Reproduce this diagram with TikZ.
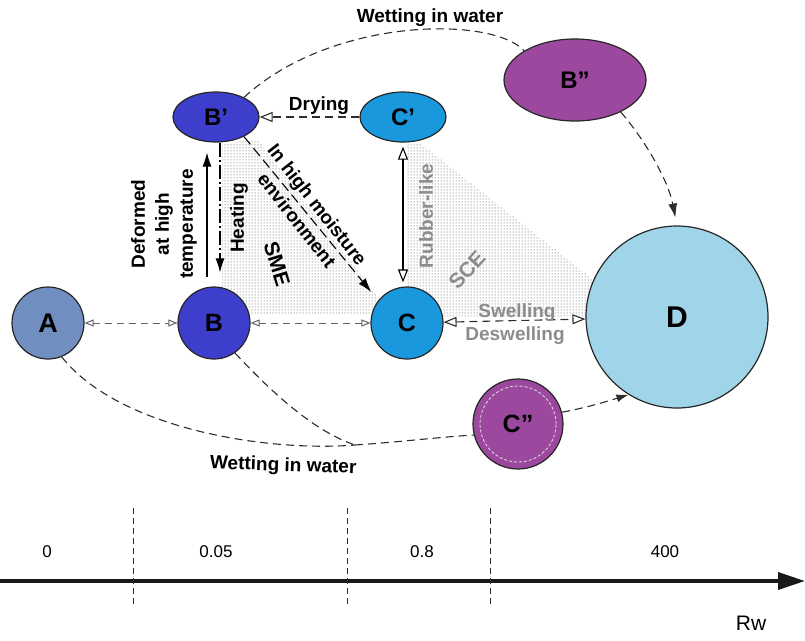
\documentclass[tikz,border=0pt]{standalone}
\usepackage{fontspec}
\setmainfont{Liberation Sans}
\usetikzlibrary{arrows.meta,shapes.geometric,patterns,calc}
\definecolor{colA}{RGB}{112,142,192}
\definecolor{colB}{RGB}{62,62,204}
\definecolor{colC}{RGB}{26,152,222}
\definecolor{colD}{RGB}{160,212,232}
\definecolor{colP}{RGB}{156,72,158}
\definecolor{txtgray}{RGB}{140,140,140}
\definecolor{lnA}{RGB}{100,100,100}
\definecolor{lnB}{RGB}{45,45,45}
\tikzset{
  otS/.tip={Triangle[open,length=9pt,width=7pt,line width=1pt]},
  otL/.tip={Triangle[open,length=13pt,width=10pt,line width=1.1pt]},
  ftip/.tip={Latex[length=14pt,width=9pt]},
  state/.style={circle,draw=black!85,line width=1.2pt,inner sep=0pt},
  estate/.style={ellipse,draw=black!85,line width=1.2pt,inner sep=0pt},
  lbl/.style={font=\fontsize{19}{24}\selectfont\bfseries,align=center,inner sep=0pt},
  glbl/.style={lbl,text=txtgray},
  nlbl/.style={font=\fontsize{17}{20}\selectfont,inner sep=0pt},
  conn/.style={line width=1.1pt,draw=black},
  gconn/.style={line width=1pt,draw=lnA,dash pattern=on 7pt off 5pt},
  dconn/.style={line width=1.1pt,draw=lnB,dash pattern=on 8pt off 5pt},
  vdash/.style={line width=0.8pt,draw=lnB,dash pattern=on 6pt off 4pt},
  stip/.style={pattern=dots,pattern color=black!75},
}
\begin{document}
\begin{tikzpicture}[x=1pt,y=-1pt]
\useasboundingbox (0,0) rectangle (805,640);
% dotted regions
\fill[stip] (222,143) -- (258,140) -- (382,302) -- (372,314) -- (222,314) -- cycle;
\fill[stip] (407,143) -- (420,143) -- (600,285) -- (600,316) -- (407,316) -- cycle;
% nodes
\node[state,fill=colA,minimum size=72pt,font=\fontsize{27}{27}\selectfont\bfseries] (A) at (48,323) {A};
\node[state,fill=colB,minimum size=72pt,font=\fontsize{25}{25}\selectfont\bfseries] (B) at (214,323) {B};
\node[state,fill=colC,minimum size=72pt,font=\fontsize{25}{25}\selectfont\bfseries] (C) at (407,323) {C};
\node[state,fill=colD,minimum size=182pt,font=\fontsize{30}{30}\selectfont\bfseries] (D) at (677,317) {D};
\node[estate,fill=colB,minimum width=86pt,minimum height=50pt,font=\fontsize{24}{24}\selectfont\bfseries] (Bp) at (216,117) {B’};
\node[estate,fill=colC,minimum width=86pt,minimum height=50pt,font=\fontsize{24}{24}\selectfont\bfseries] (Cp) at (403,117) {C’};
\node[estate,fill=colP,minimum width=142pt,minimum height=82pt,font=\fontsize{24}{24}\selectfont\bfseries] (Bpp) at (575,80) {B”};
\node[state,fill=colP,minimum size=90pt,font=\fontsize{25}{25}\selectfont\bfseries] (Cpp) at (518,424) {C”};
\draw[white!75!gray,line width=0.8pt,dash pattern=on 3pt off 2pt] (Cpp.center) circle (38pt);
% connectors
\draw[gconn,otS-otS] (A) -- (B);
\draw[gconn,otS-otS] (B) -- (C);
\draw[dconn,otL-otL] (C) -- (D);
\draw[conn,-ftip,shorten <=9pt,shorten >=10pt] ([xshift=-7pt]B.north) -- ([xshift=-7pt]B.north |- Bp.south);
\draw[conn,dash pattern=on 14pt off 3pt on 2pt off 3pt,-ftip,shorten >=14pt] ([xshift=6pt]B.north |- Bp.south) -- ([xshift=6pt]B.north);
\draw[conn,otL-otL,shorten <=4pt,shorten >=4pt] (Cp.south) -- (Cp.south |- C.north);
\draw[dconn,-otL] (Cp) -- (Bp);
\draw[conn,dash pattern=on 10pt off 5pt,-ftip,shorten >=11pt] (Bp.-35) -- (C.142);
\draw[dconn] (Bp.35) .. controls (330,18) and (490,15) .. (Bpp.150);
\draw[dconn,-ftip,shorten >=8pt] (Bpp.-35) .. controls (645,140) and (668,180) .. (D.north);
\coordinate (J) at (355,445);
\draw[dconn] (A.-68) .. controls (120,430) and (270,452) .. (J);
\draw[dconn] (B.-55) .. controls (265,385) and (310,430) .. (J);
\draw[dconn] (J) .. controls (400,442) and (440,437) .. (Cpp.194);
\draw[dconn,-{Latex[length=12pt,width=8pt]}] (Cpp.15) .. controls (585,408) and (605,402) .. (D.-122);
% labels
\node[lbl,anchor=base] (t1) at (430,22) {Wetting in water};
\node[lbl,anchor=base] (t2) at (319,110) {Drying};
\node[lbl,rotate=90] (t3) at (164,224) {Deformed\\at high\\temperature};
\node[lbl,rotate=90] (t4) at (239,218) {Heating};
\node[lbl,rotate=-52] (t5) at (316,206) {In high moisture};
\node[lbl,rotate=-52] (t5b) at (297,220) {environment};
\node[lbl,rotate=-73,font=\fontsize{21}{21}\selectfont\bfseries] (t6) at (277,264) {SME};
\node[glbl,rotate=90] (t7) at (426,216) {Rubber-like};
\node[glbl,rotate=48,font=\fontsize{21}{21}\selectfont\bfseries] (t8) at (467,270) {SCE};
\node[glbl,anchor=base] (t9) at (517,317) {Swelling};
\node[glbl,anchor=base] (t10) at (515,340) {Deswelling};
\node[lbl,anchor=base,rotate=-2] (t11) at (283,471) {Wetting in water};
% axis
\coordinate (ax0) at (0,581);
\coordinate (ax1) at (805,581);
\draw[line width=3.5pt,draw=black!90,-{Triangle[length=27pt,width=17pt]}] (ax0) -- (ax1);
\draw[vdash] (133,508) -- (133,607);
\draw[vdash] (347,508) -- (347,607);
\draw[vdash] (490,508) -- (490,607);
\node[nlbl,anchor=base] (n0) at (47,557) {0};
\node[nlbl,anchor=base] (n1) at (216,557) {0.05};
\node[nlbl,anchor=base] (n2) at (422,557) {0.8};
\node[nlbl,anchor=base] (n3) at (665,557) {400};
\node[anchor=base,inner sep=0pt,font=\fontsize{21}{21}\selectfont] (rw) at (751,630) {Rw};
\end{tikzpicture}
\end{document}
